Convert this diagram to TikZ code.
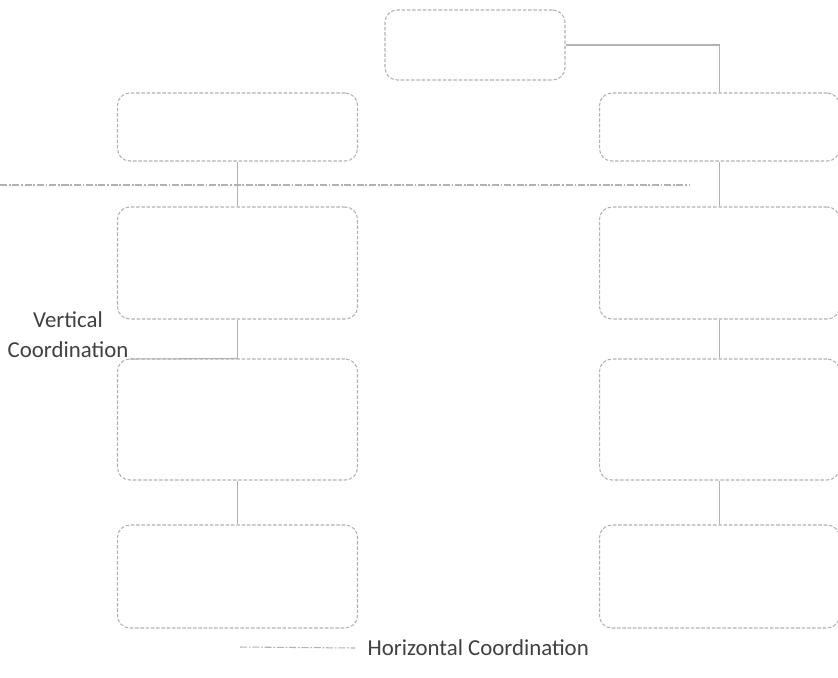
\documentclass[tikz,border=0pt]{standalone}
\usepackage{fontspec}
\setmainfont{Carlito}
\usetikzlibrary{positioning}

\begin{document}
\begin{tikzpicture}[x=0.02cm,y=-0.02cm,
        hcoord/.style={draw=gray!60,line width=0.6pt,dash pattern=on 4pt off 1pt on 1pt off 1pt},
        label/.style={text=black!75,font=\fontsize{13}{17}\selectfont,inner sep=0.5pt}]
        \useasboundingbox (0,0) rectangle (838,677);

        \begin{scope}[every node/.style={rectangle,rounded corners=7pt,draw=gray!60,line width=0.6pt,
                    dash pattern=on 2pt off 1pt,minimum width=4.8cm}]
            \node[minimum width=3.6cm,minimum height=1.4cm] (top) at (475,45) {};
            \node[minimum height=1.36cm] (l1) at (237.5,127) {};
            \node[minimum height=1.36cm] (r1) at (719.5,127) {};
            \node[minimum height=2.24cm] (l2) at (237.5,263) {};
            \node[minimum height=2.24cm] (r2) at (719.5,263) {};
            \node[minimum height=2.42cm] (l3) at (237.5,419.5) {};
            \node[minimum height=2.42cm] (r3) at (719.5,419.5) {};
            \node[minimum height=2.06cm] (l4) at (237.5,576.5) {};
            \node[minimum height=2.06cm] (r4) at (719.5,576.5) {};
        \end{scope}

        \node[label,align=center,anchor=south] (vlab) at (68,359) {Vertical\\Coordination};
        \coordinate (hleg) at (240,647);
        \node[label,anchor=west,inner xsep=7pt] (hlab) at (355,648) {Horizontal Coordination};

        \coordinate (hw) at (0,185);
        \coordinate (he) at (690,185);

        \begin{scope}[every edge/.style={draw=gray!60,line width=0.6pt}]
            \path [-] (l1) edge (l2);
            \path [-] (l2) edge (l3);
            \path [-] (l3) edge (l4);

            \path [-] (r1) edge (r2);
            \path [-] (r2) edge (r3);
            \path [-] (r3) edge (r4);

            \path [-] (vlab.south east) edge (l3.north);
        \end{scope}

        \draw[draw=gray!60,line width=0.6pt] (top.east) -| (r1.north);
        \draw[hcoord] (hw) -- (he);
        \draw[hcoord] (hleg) -- (hlab.west);
    \end{tikzpicture}
\end{document}
